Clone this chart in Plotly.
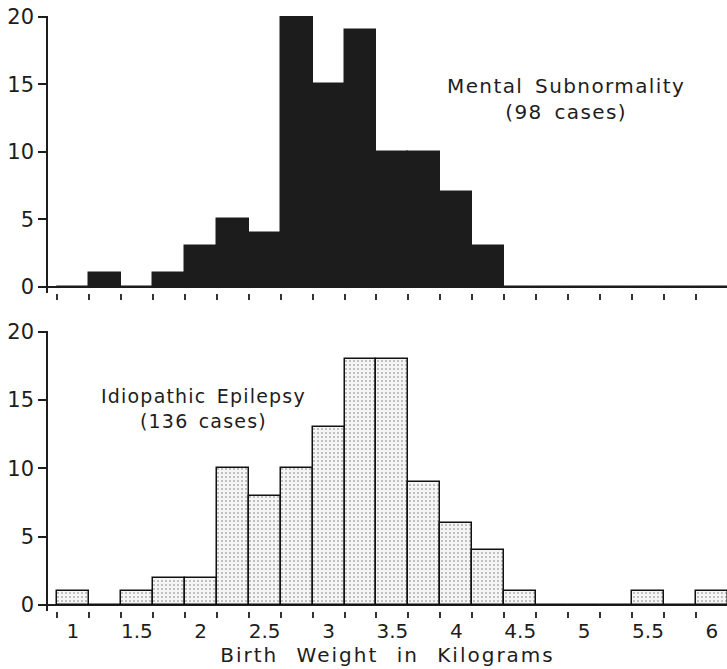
import plotly.graph_objects as go

# Bin centres (kg), bin width 0.25 kg
bin_centers = [1.0, 1.25, 1.5, 1.75, 2.0, 2.25, 2.5, 2.75, 3.0, 3.25, 3.5,
               3.75, 4.0, 4.25, 4.5, 4.75, 5.0, 5.25, 5.5, 5.75, 6.0]
bin_width = 0.25

mental_counts = [0, 1, 0, 1, 3, 5, 4, 20, 15, 19, 10,
                 10, 7, 3, 0, 0, 0, 0, 0, 0, 0]
epilepsy_counts = [1, 0, 1, 2, 2, 10, 8, 10, 13, 18, 18,
                   9, 6, 4, 1, 0, 0, 0, 1, 0, 1]

x_tick_vals = [1, 1.5, 2, 2.5, 3, 3.5, 4, 4.5, 5, 5.5, 6]
x_tick_text = ["1", "1.5", "2", "2.5", "3", "3.5", "4", "4.5", "5", "5.5", "6"]
y_tick_vals = [0, 5, 10, 15, 20]

edges = [c - bin_width / 2 for c in bin_centers] + [bin_centers[-1] + bin_width / 2]

FONT = "DejaVu Sans"
INK = "#1d1d1d"


def spaced(text, ls, ws=0):
    return f'<span style="letter-spacing:{ls}px;word-spacing:{ws}px">{text}</span>'


fig = go.Figure()
fig.add_trace(go.Bar(
    x=bin_centers, y=mental_counts, width=bin_width,
    marker=dict(color="#1c1c1c", line=dict(color="#1c1c1c", width=1.5)),
    xaxis="x", yaxis="y", showlegend=False,
))
fig.add_trace(go.Bar(
    x=bin_centers, y=epilepsy_counts, width=bin_width,
    marker=dict(color="#f2f2f2", line=dict(color="#111111", width=1.5),
                pattern=dict(shape=".", fgcolor="#707070", bgcolor="#f5f5f5",
                             size=4, solidity=0.22)),
    xaxis="x2", yaxis="y2", showlegend=False,
))

xr = [0.805, 6.118]
yr = [-0.45, 20.05]

common_y = dict(range=yr, tickvals=y_tick_vals, ticks="outside", ticklen=8,
                tickwidth=1.5, tickcolor=INK, showline=True, linecolor=INK,
                linewidth=1.5, zeroline=True, zerolinecolor=INK,
                zerolinewidth=1.5, showgrid=False, automargin=False,
                tickfont=dict(family=FONT, size=21, color=INK))
minor_x = dict(tickmode="array", tickvals=edges, ticks="outside", ticklen=6,
               tickwidth=1.5, tickcolor="#333333", showgrid=False)

fig.update_layout(
    width=727, height=669,
    margin=dict(l=48, r=0, t=16, b=58),
    paper_bgcolor="white", plot_bgcolor="white",
    bargap=0,
    xaxis=dict(domain=[0, 1], anchor="y", range=xr, showticklabels=False,
               ticks="", tickvals=x_tick_vals, showline=False, showgrid=False,
               zeroline=False, minor=minor_x, automargin=False),
    yaxis=dict(domain=[0.5345, 1], anchor="x", **common_y),
    xaxis2=dict(domain=[0, 1], anchor="y2", range=xr, tickvals=x_tick_vals,
                ticktext=x_tick_text, ticks="", showline=False, showgrid=False,
                zeroline=False, minor=minor_x, ticklabelstandoff=6,
                automargin=False,
                tickfont=dict(family=FONT, size=20, color=INK),
                title=dict(text=spaced("Birth Weight in Kilograms", 2, 10),
                           standoff=2,
                           font=dict(family=FONT, size=20, color=INK))),
    yaxis2=dict(domain=[0, 0.4706], anchor="x2", **common_y),
    annotations=[
        dict(x=4.86, y=13.9, xref="x", yref="y", showarrow=False,
             text=spaced("Mental Subnormality", 1.4, 4) + "<br>"
                  + spaced("(98 cases)", 1.4, 4),
             align="center",
             font=dict(family=FONT, size=20, color=INK)),
        dict(x=2.02, y=14.4, xref="x2", yref="y2", showarrow=False,
             text=spaced("Idiopathic Epilepsy", 1.2, 3) + "<br>"
                  + spaced("(136 cases)", 1.2, 3),
             align="center",
             font=dict(family=FONT, size=19, color=INK)),
    ],
)

fig.write_html("out.html",
               config={"displayModeBar": False},
               post_script="document.body.style.margin='0px';"
                           "document.body.style.overflow='hidden';")
